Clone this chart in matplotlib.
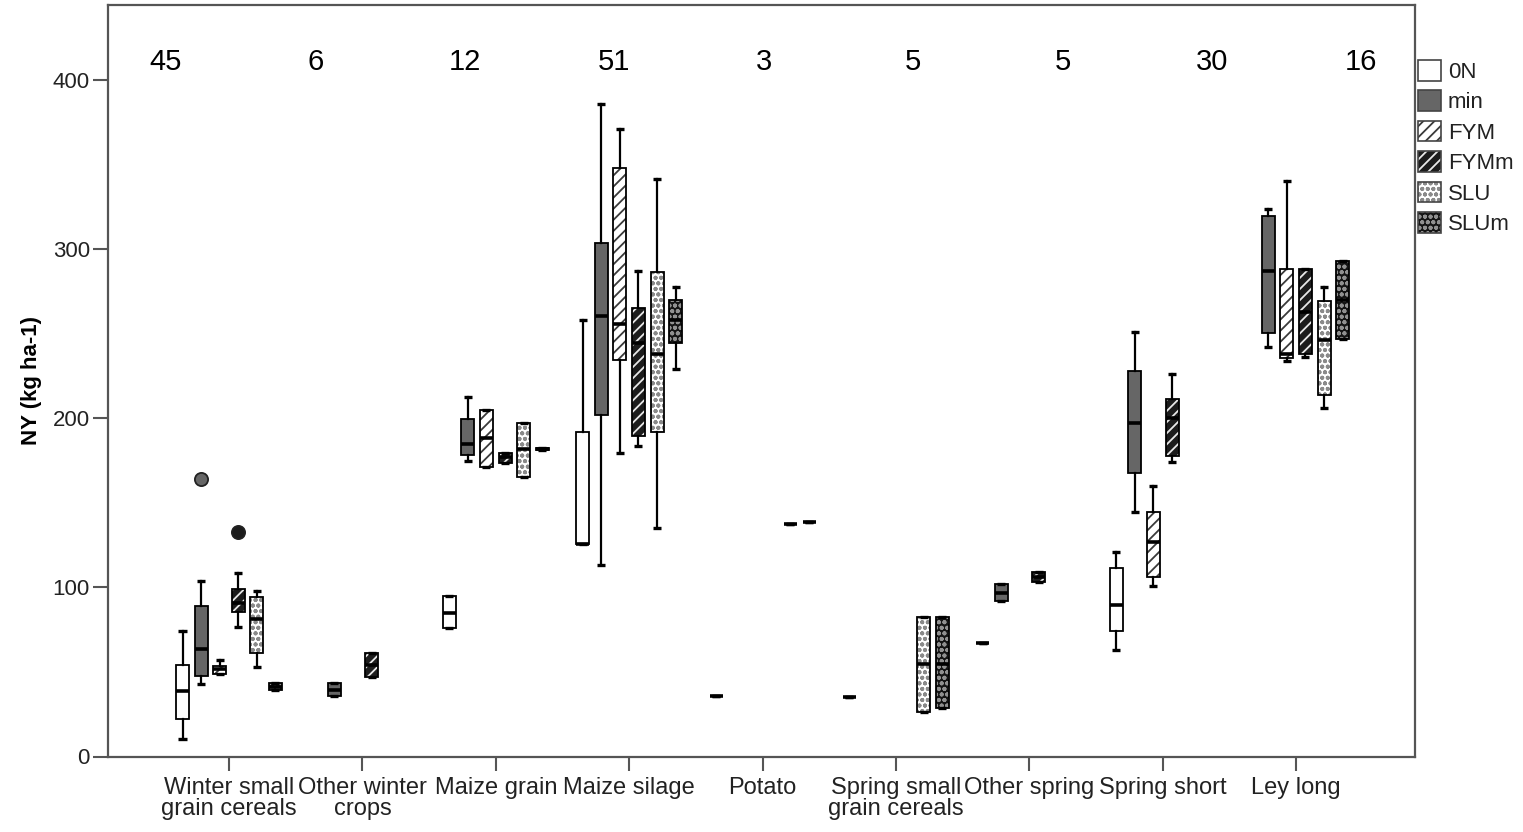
import matplotlib
matplotlib.use("Agg")
import matplotlib.pyplot as plt
from matplotlib.patches import Patch, PathPatch

# ---------------- data ----------------
categories = ["Winter small\ngrain cereals", "Other winter\ncrops", "Maize grain",
              "Maize silage", "Potato", "Spring small\ngrain cereals",
              "Other spring", "Spring short", "Ley long"]
counts = [45, 6, 12, 51, 3, 5, 5, 30, 16]
series_names = ["0N", "min", "FYM", "FYMm", "SLU", "SLUm"]

# (whisker low, Q1, median, Q3, whisker high) per category, None = no boxes
stats_0N = [(10.4, 22.2, 38.7, 54.1, 74.2), None, (76, 76, 85, 95, 95),
            (125.7, 125.7, 125.7, 192, 258.2), (35.8, 35.8, 35.8, 35.8, 35.8), (35.2, 35.2, 35.2, 35.2, 35.2),
            (67.1, 67.1, 67.1, 67.1, 67.1), (63, 74.2, 89.6, 111.6, 121.1), None]
stats_min = [(42.9, 47.6, 63.6, 89, 104), (35.8, 35.8, 39.3, 43.5, 43.5), (174.8, 178.4, 184.9, 199.6, 212.7),
             (113.3, 202, 260.6, 303.8, 386), None, None,
             (92, 92, 96.7, 102, 102), (144.6, 167.7, 197.3, 228, 251.1), (242.3, 250.6, 287.2, 319.7, 323.9)]
stats_FYM = [(48.8, 48.8, 51.6, 53.5, 57.1), None, (171.2, 171.2, 188.4, 205, 205),
             (179.5, 234.5, 255.8, 348.2, 371.3), None, None,
             None, (100.8, 106.2, 126.9, 144.6, 160), (233.9, 235.7, 238.1, 288.4, 340.5)]
stats_FYMm = [(76.6, 85.5, 90.8, 99, 108.5), (47, 47, 54, 61.2, 61.2), (173.7, 173.7, 177, 179.5, 179.5),
              (183.7, 189.6, 244.6, 265.3, 287.2), None, None,
              (103.2, 103.2, 106, 109.1, 109.1), (174.3, 177.8, 200.3, 211.5, 226.3), (236.5, 238.1, 263, 288.4, 288.4)]
stats_SLU = [(52.9, 61.2, 81.3, 94.4, 97.9), None, (165.4, 165.4, 181.9, 197.3, 197.3),
             (135.2, 192, 238.1, 286.6, 341.6), (137.5, 137.5, 137.5, 137.5, 137.5), (26.3, 26.3, 54.7, 82.5, 82.5),
             None, None, (206.2, 213.8, 246.3, 269.4, 277.7)]
stats_SLUm = [(39.3, 39.3, 41.4, 43.5, 43.5), None, (181.2, 181.2, 181.9, 182.6, 182.6),
              (229.2, 244.6, 258, 270, 277.7), (138.7, 138.7, 138.7, 138.7, 138.7), (28.7, 28.7, 55, 82.8, 82.8),
              None, None, (247, 247, 270, 293.1, 293.1)]

# outliers per category
outliers_min = [[164.2], [], [], [], [], [], [], [], []]
outliers_FYMm = [[132.8], [], [], [], [], [], [], [], []]

all_stats = [stats_0N, stats_min, stats_FYM, stats_FYMm, stats_SLU, stats_SLUm]
all_outliers = [None, outliers_min, None, outliers_FYMm, None, None]

# ---------------- styles ----------------
face = ["white", "#666666", "white", "#1c1c1c", "white", "#141414"]
hatch = [None, None, "///", "///", "ooo", "ooo"]
hatch_col = ["black", "black", "#3a3a3a", "#e8e8e8", "#8a8a8a", "#909090"]
flier_face = ["white", "#666666", "white", "#1c1c1c", "white", "#141414"]

plt.rcParams["font.family"] = ["Liberation Sans", "DejaVu Sans"]
plt.rcParams["hatch.linewidth"] = 1.3

fig = plt.figure(figsize=(15.23, 8.32), dpi=100)
ax = fig.add_axes([108 / 1523, 1 - 756.5 / 832, (1415 - 108) / 1523, (756.5 - 5) / 832])

step = 0.1394
width = 0.098
for j, (name, sts) in enumerate(zip(series_names, all_stats)):
    bstats, pos = [], []
    for i, s in enumerate(sts):
        if s is None:
            continue
        lo, q1, med, q3, hi = s
        fl = all_outliers[j][i] if all_outliers[j] is not None else []
        bstats.append(dict(whislo=lo, q1=q1, med=med, q3=q3, whishi=hi, fliers=fl, label=name))
        pos.append(i + (j - 2.5) * step)
    res = ax.bxp(bstats, positions=pos, widths=width, capwidths=0.06,
                 patch_artist=True, showfliers=True, manage_ticks=False,
                 boxprops=dict(facecolor=face[j], edgecolor=hatch_col[j], linewidth=0, hatch=hatch[j]),
                 medianprops=dict(color="black", linewidth=2.6, solid_capstyle="butt", zorder=4),
                 whiskerprops=dict(color="black", linewidth=1.6),
                 capprops=dict(color="black", linewidth=2.4, solid_capstyle="butt"),
                 flierprops=dict(marker="o", markersize=9.5, markerfacecolor=flier_face[j],
                                 markeredgecolor="#222222", markeredgewidth=1.3, linestyle="none"))
    for box in res["boxes"]:
        ax.add_patch(PathPatch(box.get_path(), facecolor="none", edgecolor="black",
                               linewidth=1.3, zorder=3))

# counts on top
for i, c in enumerate(counts):
    ax.text(-0.472 + i * 1.12, 0.924, str(c), transform=ax.get_xaxis_transform(),
            ha="center", va="center", fontsize=21, color="black")

ax.set_xlim(-0.907, 8.891)
ax.set_ylim(0, 444.5)
ax.set_xticks(range(len(categories)))
ax.set_xticklabels(categories, fontsize=17, linespacing=0.95, color="#222222")
ax.set_yticks([0, 100, 200, 300, 400])
ax.tick_params(axis="y", labelsize=16, length=11, width=1.5, pad=2, colors="#555555", labelcolor="#222222")
ax.tick_params(axis="x", length=10, width=1.5, pad=5, colors="#555555", labelcolor="#222222")
for sp in ax.spines.values():
    sp.set_color("#555555")
    sp.set_linewidth(1.6)
ax.set_ylabel("NY (kg ha-1)", fontsize=16, fontweight="bold", labelpad=8)

# legend
handles = []
for j in range(6):
    fill = Patch(facecolor=face[j], edgecolor=hatch_col[j], hatch=hatch[j], linewidth=0)
    outline = Patch(facecolor="none", edgecolor="#444444", linewidth=1.2)
    handles.append((fill, outline))
fig.legend(handles, series_names, loc="upper left", bbox_to_anchor=(1418 / 1523, 1 - 60 / 832),
           frameon=False, fontsize=16, handlelength=1.05, handleheight=1.05,
           handletextpad=0.3, labelspacing=0.34, borderpad=0, borderaxespad=0,
           labelcolor="#222222")

fig.savefig("out.png", dpi=100)
